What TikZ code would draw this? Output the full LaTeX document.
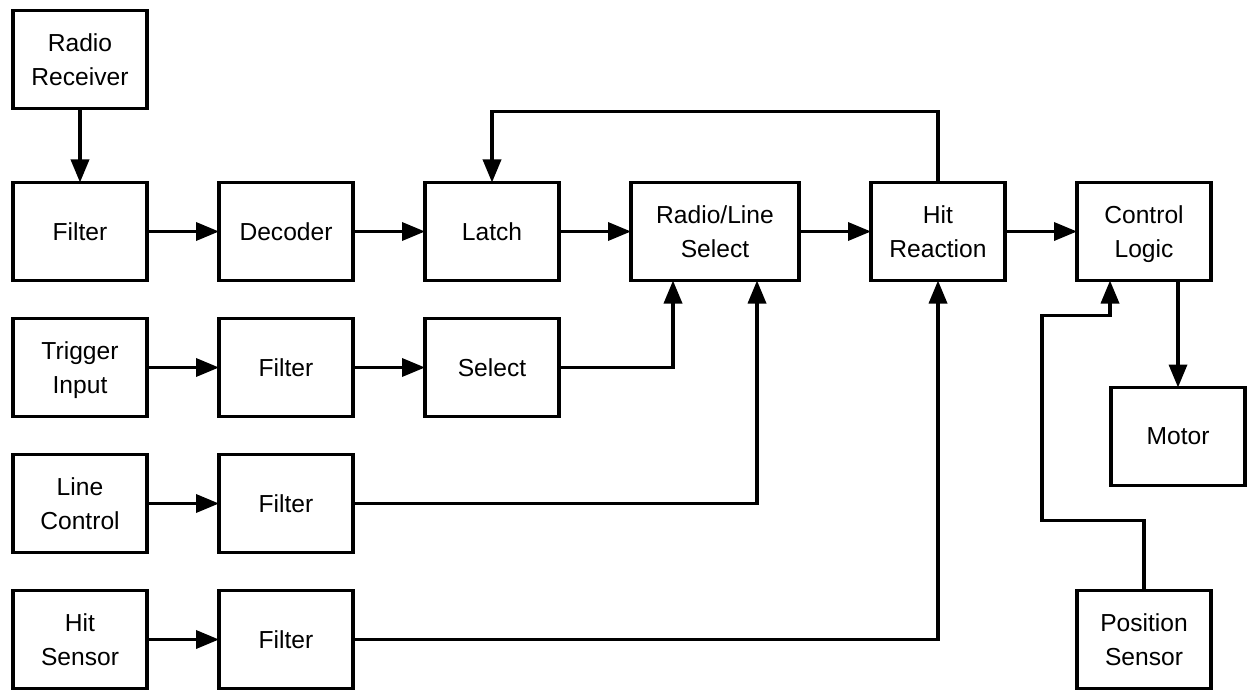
\documentclass[tikz,border=0pt]{standalone}
\usepackage{fontspec}
\setmainfont{Liberation Sans}
\usepackage{tikz}
\usetikzlibrary{positioning, calc, arrows.meta}
\tikzstyle{Block} = [
draw,
line width=2.1pt,
minimum width=2.68cm,
minimum height=1.96cm,
inner sep=0pt,
outer sep=0pt,
align=center,
font=\fontsize{14}{19.5}\selectfont]
\tikzstyle{Arrow} = [
line width=2pt,
-{Triangle[length=0.46cm, width=0.36cm]}]

\begin{document}
\begin{tikzpicture}[node distance=0.76cm and 1.44cm]
    \useasboundingbox (0,0) rectangle (25.04,-13.86);
    \node [Block] (2) at (1.6,-4.63) {Filter};
    \node [Block, above =1.48cm of 2] (1) {Radio\\Receiver};
    \node [Block, right =of 2] (3) {Decoder};
    \node [Block, right =of 3] (4) {Latch};
    \node [Block, right =of 4, minimum width=3.36cm] (5) {Radio/Line\\Select};
    \node [Block, right =of 5] (6) {Hit\\Reaction};
    \node [Block, right =of 6] (7) {Control\\\smash{Logic}};
    \node [Block, below =of 2] (8) {Trigger\\\smash{Input}};
    \node [Block, right =of 8] (9) {Filter};
    \node [Block, right =of 9] (10) {Select};
    \node [Block, below =of 8] (11) {Line\\Control};
    \node [Block, right =of 11] (12) {Filter};
    \node [Block, below =of 11] (13) {Hit\\Sensor};
    \node [Block, right =of 13] (14) {Filter};
    \node [Block, below =2.14cm of 7, xshift=0.68cm] (15) {Motor};
    \node [Block] (16) at (7 |- 13) {Position\\Sensor};
    \draw[Arrow] (1) -- (2);
    \draw[Arrow] (2) -- (3);
    \draw[Arrow] (3) -- (4);
    \draw[Arrow] (4) -- (5);
    \draw[Arrow] (5) -- (6);
    \draw[Arrow] (6) -- (7);
    \draw[Arrow] (6.north) -- ++(0,1.42) -| (4.north);
    \draw[Arrow] (8) -- (9);
    \draw[Arrow] (9) -- (10);
    \draw[Arrow] (10.east) -| ($(5.south west)!0.25!(5.south east)$);
    \draw[Arrow] (11) -- (12);
    \draw[Arrow] (12.east) -| ($(5.south west)!0.75!(5.south east)$);
    \draw[Arrow] (13) -- (14);
    \draw[Arrow] (14.east) -| (6.south);
    \draw[Arrow] (7.south -| 15.north) -- (15.north);
    \draw[Arrow] (16.north) -- ++(0,1.4) -- ++(-2.04,0)
        |- ([xshift=-0.68cm,yshift=-0.7cm]7.south) -- ([xshift=-0.68cm]7.south);
\end{tikzpicture}
\end{document}
